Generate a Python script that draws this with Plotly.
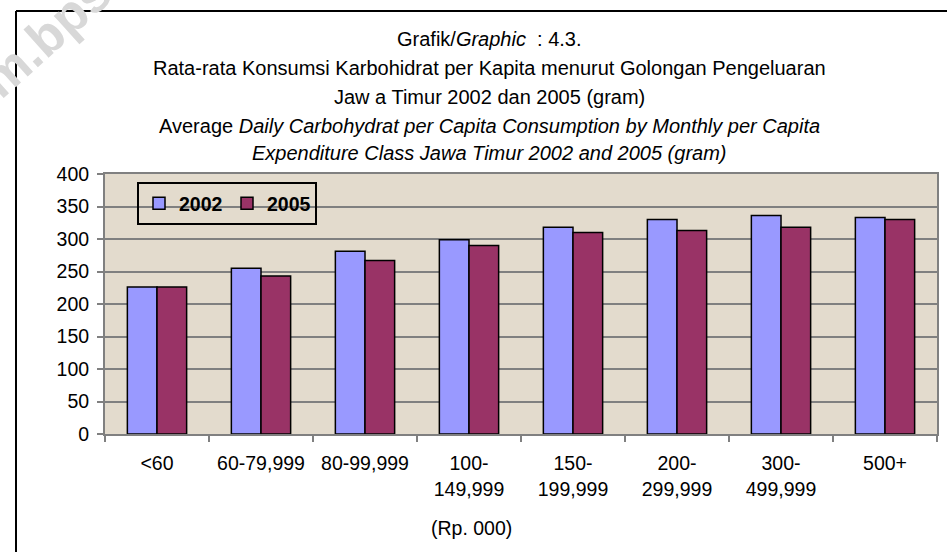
import plotly.graph_objects as go

# ---- data ----
categories = ["&lt;60", "60-79,999", "80-99,999", "100-<br>149,999", "150-<br>199,999",
              "200-<br>299,999", "300-<br>499,999", "500+"]
values_2002 = [226, 255, 281, 299, 318, 330, 336, 333]
values_2005 = [226, 243, 267, 290, 310, 313, 318, 330]
series_names = ["2002", "2005"]
y_ticks = [0, 50, 100, 150, 200, 250, 300, 350, 400]

title_lines = [
    "Grafik/<i>Graphic</i>  : 4.3.",
    "Rata-rata Konsumsi Karbohidrat per Kapita menurut Golongan Pengeluaran",
    "Jaw a Timur 2002 dan 2005 (gram)",
    "Average <i>Daily Carbohydrat per Capita Consumption by Monthly per Capita</i>",
    "<i>Expenditure Class Jawa Timur 2002 and 2005 (gram)</i>",
]
x_title = "(Rp. 000)"

W, H = 947, 552
L, R, T, B = 105, 10, 174, 118
PW, PH = W - L - R, H - T - B


def px(x):
    return (x - L) / PW


def py(y):
    return (H - B - y) / PH


FONT = "Liberation Sans, Arial, sans-serif"

fig = go.Figure()
fig.add_trace(go.Bar(x=categories, y=values_2002, name=series_names[0],
                     marker=dict(color="#9999FF", line=dict(color="black", width=1.5))))
fig.add_trace(go.Bar(x=categories, y=values_2005, name=series_names[1],
                     marker=dict(color="#993366", line=dict(color="black", width=1.5))))

annotations = []
# faint watermark (drawn first, behind everything else)
annotations.append(dict(text="<b>jatim.bps.go.id</b>", x=px(69), y=py(15), xref="paper", yref="paper",
                        xanchor="center", yanchor="middle", showarrow=False, textangle=-42,
                        font=dict(family=FONT, size=52, color="#D8D8D8")))
ys = [39, 68, 97, 126, 153]
for t, y in zip(title_lines, ys):
    annotations.append(dict(text=t, x=px(489), y=py(y), xref="paper", yref="paper",
                            xanchor="center", yanchor="middle", showarrow=False,
                            font=dict(family=FONT, size=20, color="black")))
annotations.append(dict(text=x_title, x=px(471), y=py(528), xref="paper", yref="paper",
                        xanchor="center", yanchor="middle", showarrow=False,
                        font=dict(family=FONT, size=19.5, color="black")))

shapes = [
    dict(type="line", xref="paper", yref="paper", x0=px(16), x1=px(960), y0=py(11), y1=py(11),
         line=dict(color="black", width=2)),
    dict(type="line", xref="paper", yref="paper", x0=px(16), x1=px(16), y0=py(11), y1=py(570),
         line=dict(color="black", width=2)),
]

fig.update_layout(
    width=W, height=H,
    margin=dict(l=L, r=R, t=T, b=B, autoexpand=False),
    paper_bgcolor="white",
    plot_bgcolor="#E3DBCD",
    barmode="group", bargap=0.43, bargroupgap=0,
    font=dict(family=FONT, size=19.5, color="black"),
    showlegend=True,
    legend=dict(orientation="h", x=px(137), y=py(182), xanchor="left", yanchor="top",
                bgcolor="rgba(0,0,0,0)", bordercolor="black", borderwidth=2,
                font=dict(family=FONT, size=19.5, color="black", weight="bold"),
                itemwidth=30, entrywidth=43, tracegroupgap=0),
    annotations=annotations,
    shapes=shapes,
    xaxis=dict(type="category", showgrid=False, ticks="outside", tickson="boundaries",
               ticklen=6, tickwidth=1.5, tickcolor="#808080",
               showline=True, linecolor="#808080", linewidth=2, mirror=True,
               tickfont=dict(family=FONT, size=19.5, color="black"), ticklabelstandoff=11),
    yaxis=dict(range=[0, 400], tickvals=y_ticks, showgrid=True, gridcolor="#808080", gridwidth=1.5,
               ticks="outside", ticklen=6, tickwidth=1.5, tickcolor="#808080",
               showline=True, linecolor="#808080", linewidth=2, mirror=True, zeroline=False,
               tickfont=dict(family=FONT, size=19.5, color="black"), ticklabelstandoff=4),
)

fig.write_html("out.html", config={"displayModeBar": False},
               post_script="document.body.style.margin='0px';document.body.style.overflow='hidden';")
